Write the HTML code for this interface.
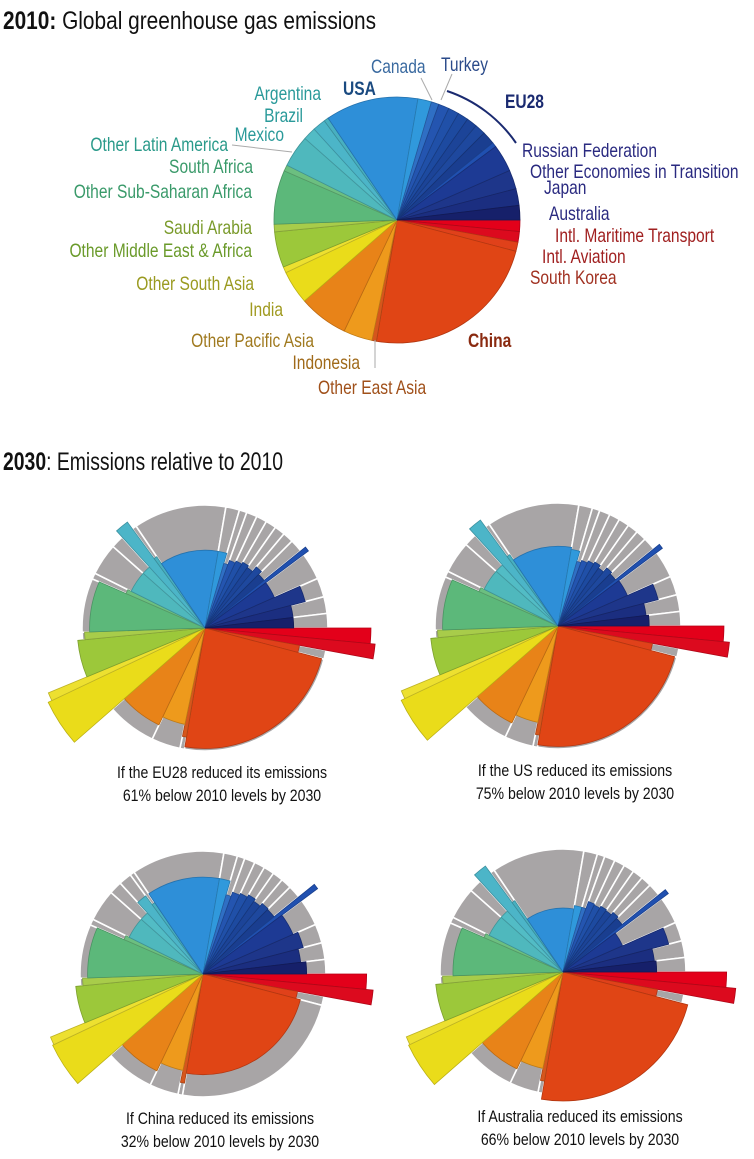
<!DOCTYPE html>
<html><head><meta charset="utf-8"><style>
html,body{margin:0;padding:0;background:#fff;}
svg{display:block;font-family:"Liberation Sans",sans-serif;}
</style></head><body>
<svg id="chart" width="754" height="1159" viewBox="0 0 754 1159">
<g>
<text x="3" y="29" font-size="25" textLength="373" lengthAdjust="spacingAndGlyphs" fill="#111"><tspan font-weight="bold">2010:</tspan> Global greenhouse gas emissions</text>
</g>
<g>
<text x="3" y="470" font-size="25" textLength="280" lengthAdjust="spacingAndGlyphs" fill="#111"><tspan font-weight="bold">2030</tspan>: Emissions relative to 2010</text>
</g>
<g id="topPie"></g>
<g id="labels"></g>
<g id="smalls"></g>
</svg>
<script>
// Regions in clockwise order from 3 o'clock
const regions = ["Intl. Maritime Transport","Intl. Aviation","South Korea","China","Other East Asia","Indonesia","Other Pacific Asia","India","Other South Asia","Other Middle East & Africa","Saudi Arabia","Other Sub-Saharan Africa","South Africa","Other Latin America","Mexico","Brazil","Argentina","USA","Canada","Turkey","EU28 a","EU28 b","EU28 c","EU28 d","EU28 e","EU28 f","EU28 g","Russian Federation","Other Economies in Transition","Japan","Australia"];
// 2010 share of global emissions (%)
const shares2010 = [1.5,1.4,1.2,23.6,0.6,3.8,6.5,4.4,0.8,4.7,1.0,7.1,0.8,4.2,1.7,1.7,0.6,12.2,1.8,1.0,1.4,1.4,1.4,1.4,1.4,1.7,0.6,3.6,2.5,2.2,1.9];
const colors = ["#e3001a","#dc0a1e","#e0411a","#e04515","#d6561c","#ee9a1c","#e88318","#eadc1a","#ede030","#9cc83a","#a8cc4a","#5cb87a","#6cbf80","#4fb8bd","#52bcc5","#4cb5c8","#48b0c0","#2e8fd8","#3099dc","#2f6fc4","#2455b0","#2050a8","#1d4aa0","#1c4498","#1e489e","#1a3e90","#2050b0","#1d3a94","#1e368a","#1b2e80","#16206a"];
// 2030 emissions relative to 2010 (ratio) for each scenario
const ratioEU = [1.82,1.93,0.61,0.96,0.81,0.64,0.76,1.99,1.9,1.08,0.96,0.88,0.49,0.45,0.45,1.14,0.49,0.40,0.40,0.30,0.34,0.36,0.38,0.36,0.42,0.38,1.10,0.38,0.71,0.52,0.52];
const ratioUS = [1.82,1.96,0.61,0.96,0.81,0.64,0.76,1.99,1.9,1.08,0.96,0.88,0.49,0.45,0.45,1.14,0.49,0.42,0.40,0.30,0.32,0.34,0.36,0.33,0.38,0.36,1.12,0.38,0.71,0.52,0.55];
const ratioChina = [1.77,1.93,0.61,0.67,0.81,0.64,0.76,1.83,1.8,1.08,0.96,0.88,0.49,0.45,0.45,0.62,0.49,0.62,0.62,0.45,0.50,0.52,0.55,0.52,0.56,0.55,1.35,0.64,0.71,0.64,0.71];
const ratioAus = [1.77,1.99,0.61,1.10,0.81,0.64,0.76,1.93,1.9,1.08,0.96,0.80,0.49,0.45,0.45,1.14,0.49,0.27,0.30,0.30,0.37,0.36,0.38,0.37,0.40,0.38,1.14,0.28,0.79,0.56,0.58];
const scenarioNames = ["eu28","us","china","australia"];
const captions1 = ["If the EU28 reduced its emissions","If the US reduced its emissions","If China reduced its emissions","If Australia reduced its emissions"];
const captions2 = ["61% below 2010 levels by 2030","75% below 2010 levels by 2030","32% below 2010 levels by 2030","66% below 2010 levels by 2030"];

const NS="http://www.w3.org/2000/svg";
const R=123;
const total=shares2010.reduce((a,b)=>a+b,0);
function angles(){const out=[];let a=0;for(const s of shares2010){const w=s/total*2*Math.PI;out.push([a,a+w]);a+=w;}return out;}
const ANG=angles();
function darken(hex,f){const n=parseInt(hex.slice(1),16);const r=Math.round(((n>>16)&255)*f),g=Math.round(((n>>8)&255)*f),b=Math.round((n&255)*f);return `rgb(${r},${g},${b})`;}
function wedge(cx,cy,r,a0,a1){const x0=cx+r*Math.cos(a0),y0=cy+r*Math.sin(a0),x1=cx+r*Math.cos(a1),y1=cy+r*Math.sin(a1);const big=(a1-a0)>Math.PI?1:0;return `M${cx},${cy}L${x0.toFixed(2)},${y0.toFixed(2)}A${r},${r} 0 ${big} 1 ${x1.toFixed(2)},${y1.toFixed(2)}Z`;}
function mk(tag,attrs,parent){const e=document.createElementNS(NS,tag);for(const k in attrs)e.setAttribute(k,attrs[k]);parent.appendChild(e);return e;}

// top pie
const topG=document.getElementById('topPie');
regions.forEach((n,i)=>{
  const p=mk('path',{d:wedge(397,220,R,ANG[i][0],ANG[i][1]),fill:colors[i],stroke:darken(colors[i],0.8),'stroke-width':0.8},topG);
  
  
});

// labels: text, x, anchor, baseline y, color, bold
const labels=[
 ["Canada",371,"start",73,"#3a6aa0",0],["Turkey",441,"start",71,"#2a4a8a",0],["USA",343,"start",95,"#1a4a80",1],
 ["Argentina",321,"end",100,"#2a9a9a",0],["Brazil",303,"end",122,"#2a9a9a",0],["Mexico",284,"end",141,"#2a9a9a",0],
 ["Other Latin America",228,"end",151,"#2a9a8a",0],["South Africa",253,"end",173,"#3a9a6a",0],["Other Sub-Saharan Africa",252,"end",198,"#3a9a6a",0],
 ["Saudi Arabia",252,"end",234,"#7a9a2a",0],["Other Middle East & Africa",252,"end",257,"#6a9a2a",0],["Other South Asia",254,"end",290,"#9a9a20",0],
 ["India",283,"end",316,"#a09a20",0],["Other Pacific Asia",314,"end",347,"#a07a20",0],["Indonesia",360,"end",369,"#a06a1a",0],
 ["Other East Asia",318,"start",394,"#a0501a",0],["China",468,"start",347,"#8a2a10",1],["EU28",505,"start",108,"#1a2a70",1],
 ["Russian Federation",522,"start",157,"#2a2a80",0],["Other Economies in Transition",530,"start",178,"#2a2a80",0],["Japan",544,"start",194,"#2a2a80",0],
 ["Australia",549,"start",220,"#2a2a80",0],["Intl. Maritime Transport",555,"start",242,"#a02020",0],["Intl. Aviation",542,"start",263,"#a02020",0],
 ["South Korea",530,"start",284,"#a03020",0]];
const lg=document.getElementById('labels');
labels.forEach(l=>{
  const t=mk('text',{x:0,y:0,transform:`translate(${l[1]},${l[3]}) scale(0.82,1)`,'font-size':19,fill:l[4],'text-anchor':l[2],'font-weight':l[5]?'bold':'normal'},lg);
  t.textContent=l[0];
  
  
});
const leaders=[[421,78,432,100],[452,74,441,100],[375,368,375,340],[232,145,292,152]];
leaders.forEach(d=>{const ln=mk('line',{x1:d[0],y1:d[1],x2:d[2],y2:d[3],stroke:'#aaa','stroke-width':1},lg);
  
  });
const arc=mk('path',{d:`M447,91 A136,136 0 0 1 516,143`,fill:'none',stroke:'#1a2a70','stroke-width':2},lg);



// small pies
const centers=[[205,628],[558,626],[203,974],[563,972]];
const ratios=[ratioEU,ratioUS,ratioChina,ratioAus];
const sg=document.getElementById('smalls');
ratios.forEach((rs,k)=>{
  const cx=centers[k][0], cy=centers[k][1];
  const g=mk('g',{},sg);
  
  
  regions.forEach((n,i)=>{
    const p=mk('path',{d:wedge(cx,cy,R,ANG[i][0],ANG[i][1]),fill:'#a8a5a6',stroke:'#fff','stroke-width':1.6},g);
    
    
  });
  regions.forEach((n,i)=>{
    const r=R*Math.sqrt(rs[i]);
    const p=mk('path',{d:wedge(cx,cy,r,ANG[i][0],ANG[i][1]),fill:colors[i],stroke:darken(colors[i],0.8),'stroke-width':0.8},g);
    
    
  });
  const ty=cy+150;
  const t1=mk('text',{x:0,y:0,transform:`translate(${cx+17},${ty}) scale(0.83,1)`,'font-size':17,'text-anchor':'middle',fill:'#111'},g);
  t1.textContent=captions1[k];
  
  
  const t2=mk('text',{x:0,y:0,transform:`translate(${cx+17},${ty+23}) scale(0.83,1)`,'font-size':17,'text-anchor':'middle',fill:'#111'},g);
  t2.textContent=captions2[k];
  
  
});
</script>
</body></html>
